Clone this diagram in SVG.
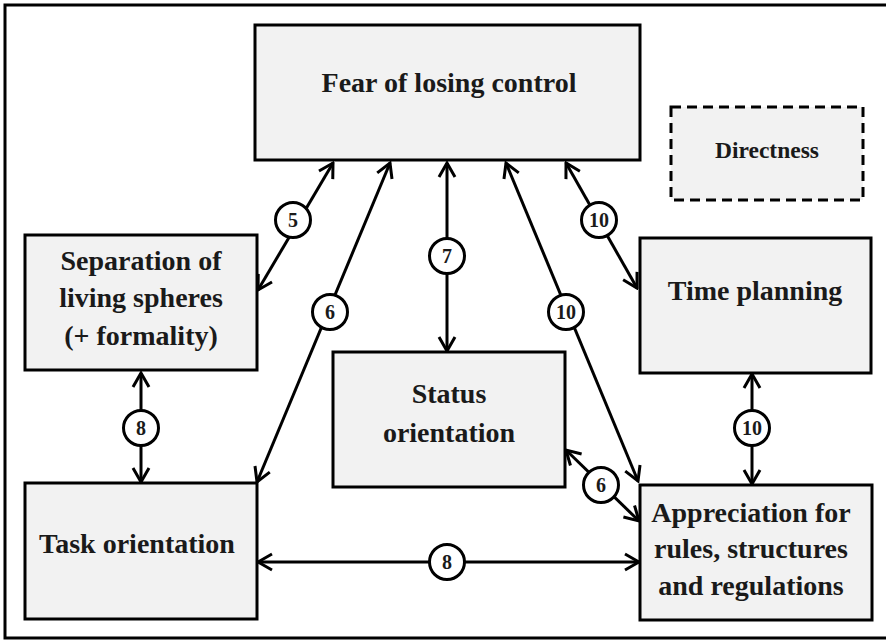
<svg xmlns="http://www.w3.org/2000/svg" width="886" height="640" viewBox="0 0 886 640">
<style>
.box{fill:#f2f2f2;stroke:#000;stroke-width:3}
.dash{fill:#f2f2f2;stroke:#000;stroke-width:3;stroke-dasharray:10 6}
.t{font-family:"Liberation Serif","Times New Roman",serif;font-weight:bold;font-size:28px;fill:#1a1a1a;text-anchor:middle}
.ts{font-size:23.5px}
.c{stroke:#000;stroke-width:3;fill:none;marker-start:url(#ah);marker-end:url(#ah)}
.lc{fill:#fff;stroke:#000;stroke-width:3}
.n{font-family:"Liberation Serif","Times New Roman",serif;font-weight:bold;font-size:20px;fill:#1a1a1a;text-anchor:middle}
</style>
<defs>
<marker id="ah" markerUnits="userSpaceOnUse" viewBox="-18 -11 20 22" markerWidth="20" markerHeight="22" refX="0" refY="0" orient="auto-start-reverse">
<path d="M -14 -8 L 0 0 L -14 8" fill="none" stroke="#000" stroke-width="3"/>
</marker>
</defs>
<rect width="886" height="640" fill="#fff"/>
<path d="M 900 5 L 5 5 L 5 638 L 900 638" fill="none" stroke="#000" stroke-width="3"/>
<g id="connectors">
<line class="c" x1="333" y1="163" x2="258" y2="290"/>
<line class="c" x1="390" y1="163" x2="257" y2="482"/>
<line class="c" x1="447" y1="163" x2="447" y2="351"/>
<line class="c" x1="506" y1="163" x2="638" y2="481"/>
<line class="c" x1="566" y1="163" x2="637" y2="288"/>
<line class="c" x1="141" y1="373" x2="141" y2="482"/>
<line class="c" x1="752" y1="374" x2="752" y2="484"/>
<line class="c" x1="566" y1="450" x2="639" y2="521"/>
<line class="c" x1="258" y1="562" x2="639" y2="562"/>
<g id="label5"><circle class="lc" cx="293" cy="220" r="17.5"/><text class="n" x="293" y="227">5</text></g>
<g id="label6a"><circle class="lc" cx="330" cy="312" r="17.5"/><text class="n" x="330" y="319">6</text></g>
<g id="label7"><circle class="lc" cx="447" cy="256" r="17.5"/><text class="n" x="447" y="263">7</text></g>
<g id="label10a"><circle class="lc" cx="566" cy="312" r="17.5"/><text class="n" x="566" y="319">10</text></g>
<g id="label10b"><circle class="lc" cx="599" cy="220" r="17.5"/><text class="n" x="599" y="227">10</text></g>
<g id="label8a"><circle class="lc" cx="141" cy="428" r="17.5"/><text class="n" x="141" y="435">8</text></g>
<g id="label10c"><circle class="lc" cx="752" cy="428" r="17.5"/><text class="n" x="752" y="435">10</text></g>
<g id="label6b"><circle class="lc" cx="601" cy="485" r="17.5"/><text class="n" x="601" y="492">6</text></g>
<g id="label8b"><circle class="lc" cx="447" cy="562" r="17.5"/><text class="n" x="447" y="569">8</text></g>
</g>
<g id="fear"><rect class="box" x="255" y="25" width="385" height="135"/><text class="t" x="449" y="92">Fear of losing control</text></g>
<g id="directness"><rect class="dash" x="671" y="107" width="192" height="93"/><text class="t ts" x="767" y="158">Directness</text></g>
<g id="separation"><rect class="box" x="25" y="235" width="232" height="135"/><text class="t" x="141" y="270">Separation of</text><text class="t" x="141" y="307">living spheres</text><text class="t" x="141" y="345">(+ formality)</text></g>
<g id="time"><rect class="box" x="640" y="238" width="231" height="135"/><text class="t" x="755" y="300">Time planning</text></g>
<g id="status"><rect class="box" x="333" y="352" width="232" height="135"/><text class="t" x="449" y="403">Status</text><text class="t" x="449" y="442">orientation</text></g>
<g id="task"><rect class="box" x="25" y="483" width="232" height="136"/><text class="t" x="137" y="553">Task orientation</text></g>
<g id="appreciation"><rect class="box" x="640" y="485" width="232" height="135"/><text class="t" x="751" y="522">Appreciation for</text><text class="t" x="751" y="558">rules, structures</text><text class="t" x="751" y="595">and regulations</text></g>
</svg>
